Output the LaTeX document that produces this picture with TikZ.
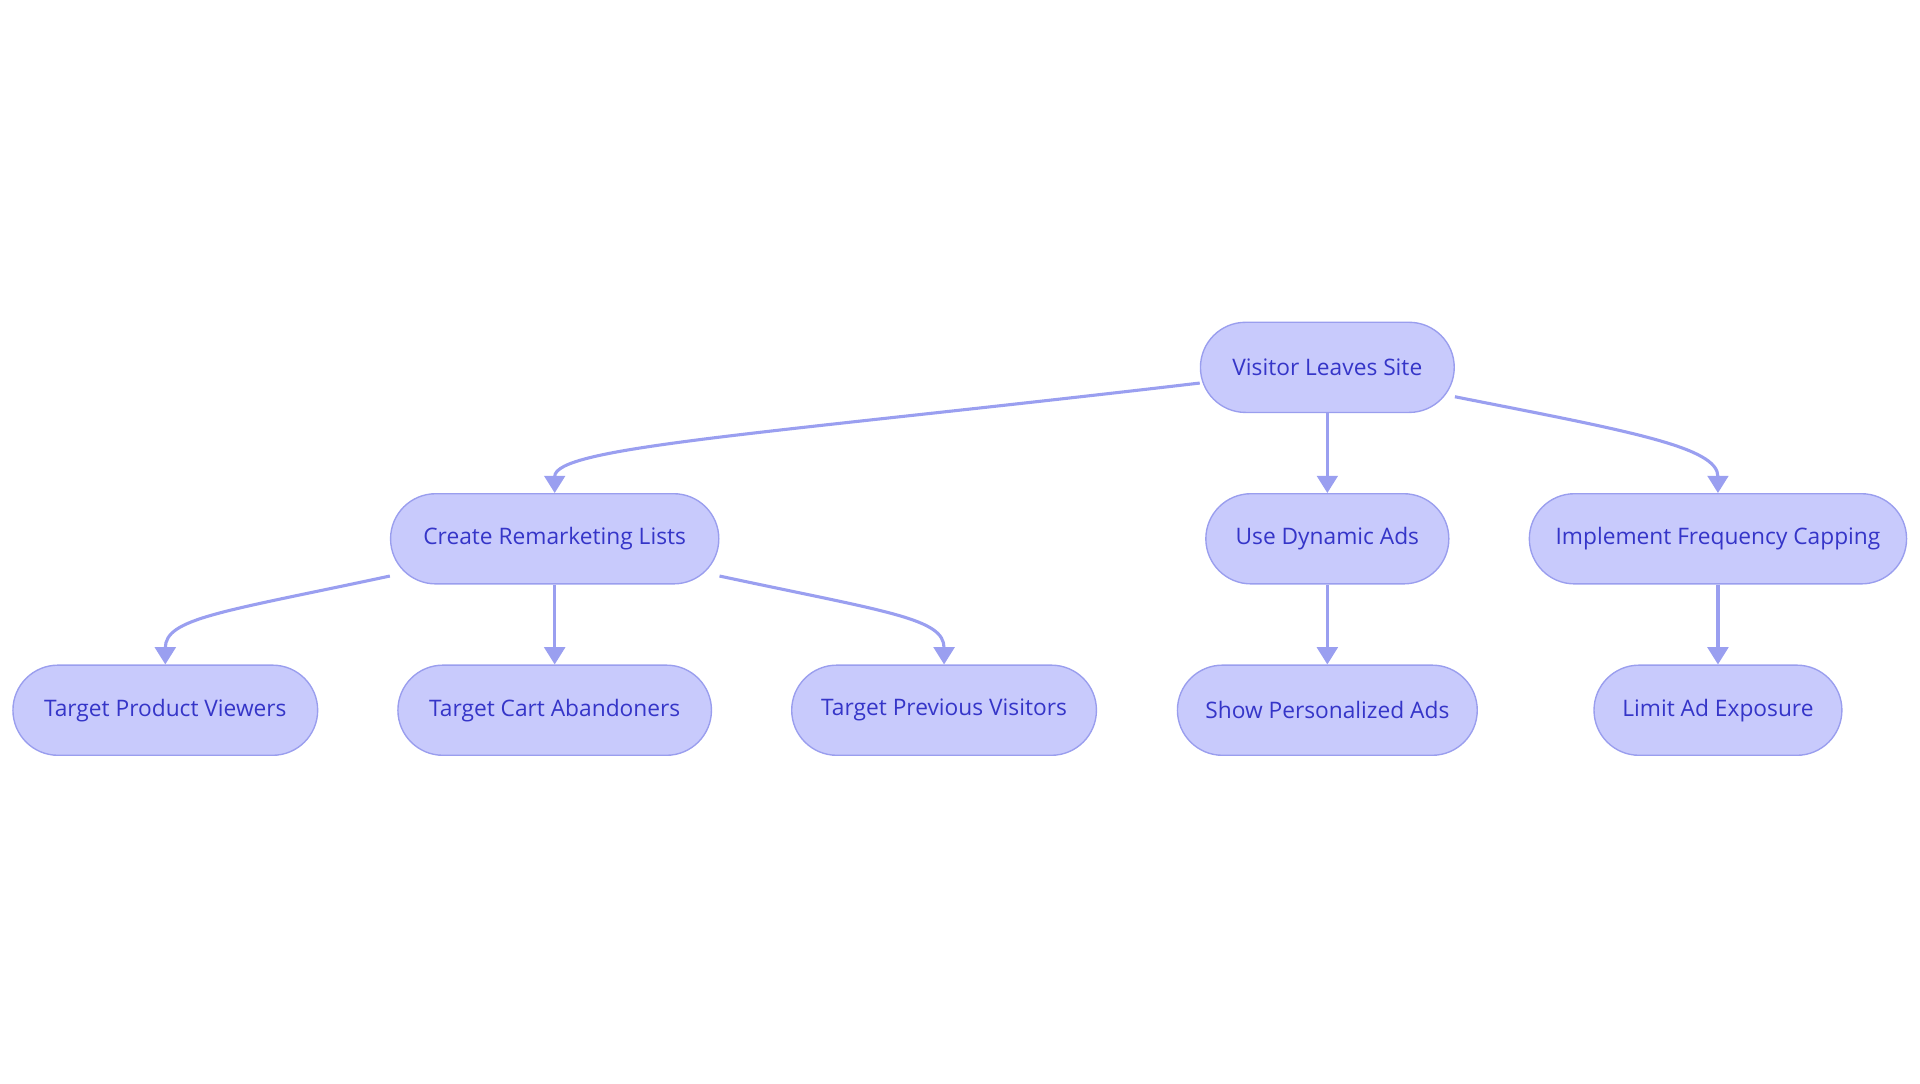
\documentclass[tikz,border=0pt]{standalone}
\usepackage{fontspec}
\setmainfont{Open Sans}
\usetikzlibrary{arrows.meta,positioning}
\definecolor{boxfill}{HTML}{C8CAFC}
\definecolor{boxline}{HTML}{9A9EEE}
\definecolor{boxtext}{HTML}{3535C8}
\definecolor{edgecol}{HTML}{9A9FF0}
\begin{document}
\begin{tikzpicture}[x=0.0125cm, y=-0.0125cm,
  every node/.style={draw=boxline, fill=boxfill, text=boxtext, rounded corners=0.46cm,
    minimum height=0.92cm, inner sep=0pt, font=\fontsize{6.6}{8}\selectfont},
  link/.style={draw=edgecol, line width=0.9pt, -{Triangle[length=5pt,width=6pt]}}]
  \useasboundingbox (0,0) rectangle (1568,885);

  % Top
  \node[minimum width=2.59cm] (visit) at (1084,300) {Visitor Leaves Site};

  % Second row
  \node[minimum width=3.35cm] (lists) at (453,440) {Create Remarketing Lists};
  \node[minimum width=2.48cm] (dyn) at (1084,440) {Use Dynamic Ads};
  \node[minimum width=3.85cm] (cap) at (1403,440) {Implement Frequency Capping};

  % Third row
  \node[minimum width=3.11cm] (prod) at (135,580) {Target Product Viewers};
  \node[minimum width=3.2cm] (cart) at (453,580) {Target Cart Abandoners};
  \node[minimum width=3.11cm] (prev) at (771,580) {Target Previous Visitors};
  \node[minimum width=3.06cm] (pers) at (1084,580) {Show Personalized Ads};
  \node[minimum width=2.53cm] (limit) at (1403,580) {Limit Ad Exposure};

  % Connectors
  \draw[link] ([yshift=-0.16cm]visit.west) .. controls (620,355) and (453,365) .. (lists.north);
  \draw[link] (visit) -- (dyn);
  \draw[link] ([yshift=-0.3cm]visit.east) .. controls (1330,352) and (1403,365) .. (cap.north);
  \draw[link] ([yshift=-0.38cm]lists.west) .. controls (180,500) and (135,505) .. (prod.north);
  \draw[link] (lists) -- (cart);
  \draw[link] ([yshift=-0.38cm]lists.east) .. controls (726,500) and (771,505) .. (prev.north);
  \draw[link] (dyn) -- (pers);
  \draw[link] (cap) -- (limit);
\end{tikzpicture}
\end{document}
